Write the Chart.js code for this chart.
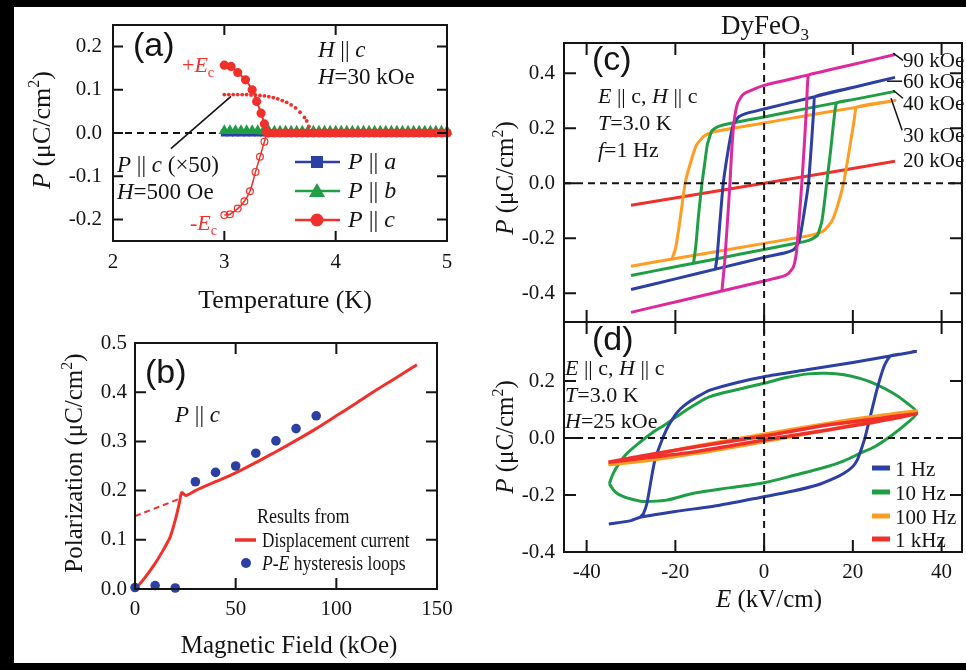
<!DOCTYPE html>
<html>
<head>
<meta charset="utf-8">
<script src="https://cdn.jsdelivr.net/npm/chart.js@4.4.1/dist/chart.umd.min.js"></script>
<style>
  body { margin: 0; background: #000; }
  #fig { position: relative; width: 966px; height: 670px; background: #000; overflow: hidden; }
  #paper { position: absolute; left: 14px; top: 7px; width: 952px; height: 656px; background: #fff; }
  canvas { position: absolute; left: 0; top: 0; }
</style>
</head>
<body>
<div id="fig">
  <div id="paper"></div>
  <canvas id="pa" width="966" height="670"></canvas>
  <canvas id="pb" width="966" height="670"></canvas>
  <canvas id="pc" width="966" height="670"></canvas>
  <canvas id="pd" width="966" height="670"></canvas>
</div>
<script>
// ---- (a) P vs temperature, H || c = 30 kOe
const tempGrid = [3.00, 3.05, 3.10, 3.15, 3.20, 3.25, 3.30, 3.35, 3.40, 3.45, 3.50, 3.55, 3.60, 3.65, 3.70,
  3.75, 3.80, 3.85, 3.90, 3.95, 4.00, 4.05, 4.10, 4.15, 4.20, 4.25, 4.30, 4.35, 4.40, 4.45, 4.50, 4.55,
  4.60, 4.65, 4.70, 4.75, 4.80, 4.85, 4.90, 4.95, 5.00]
const polA = [0, 0, 0, 0, 0, 0, 0, 0, 0, 0, 0, 0, 0, 0, 0, 0, 0, 0, 0, 0, 0,
  0, 0, 0, 0, 0, 0, 0, 0, 0, 0, 0, 0, 0, 0, 0, 0, 0, 0, 0, 0]
const polB = [0.005, 0.005, 0.005, 0.005, 0.005, 0.005, 0.005, 0.004, 0.004, 0.004, 0.004, 0.004, 0.004,
  0.004, 0.004, 0.004, 0.004, 0.004, 0.004, 0.004, 0.004, 0.004, 0.004, 0.004, 0.004, 0.004, 0.004,
  0.004, 0.004, 0.004, 0.004, 0.004, 0.004, 0.004, 0.004, 0.004, 0.004, 0.004, 0.004, 0.004, 0.004]
const tempUp = [3.00, 3.06, 3.12, 3.19, 3.25, 3.29, 3.33, 3.36, 3.38, 3.40, 3.45, 3.50, 3.55, 3.60, 3.65,
  3.70, 3.75, 3.80, 3.85, 3.90, 3.95, 4.00, 4.05, 4.10, 4.15, 4.20, 4.25, 4.30, 4.35, 4.40, 4.45, 4.50,
  4.55, 4.60, 4.65, 4.70, 4.75, 4.80, 4.85, 4.90, 4.95, 5.00]
const polUp = [0.157, 0.154, 0.140, 0.123, 0.100, 0.073, 0.046, 0.021, 0.003, 0, 0, 0, 0, 0, 0,
  0, 0, 0, 0, 0, 0, 0, 0, 0, 0, 0, 0, 0, 0, 0, 0, 0, 0, 0, 0, 0, 0, 0, 0, 0, 0, 0]
const tempDown = [3.00, 3.05, 3.12, 3.18, 3.23, 3.28, 3.32, 3.36, 3.38]
const polDown = [-0.190, -0.188, -0.175, -0.158, -0.135, -0.090, -0.055, -0.020, 0.000]
// P || c (x50) at H = 500 Oe
const tempWeak = [3.00, 3.04, 3.08, 3.12, 3.16, 3.20, 3.24, 3.28, 3.32, 3.36, 3.40, 3.44, 3.48, 3.52,
  3.56, 3.60, 3.64, 3.68, 3.72, 3.74, 3.76, 3.78]
const polWeak = [0.089, 0.089, 0.089, 0.089, 0.089, 0.089, 0.088, 0.088, 0.087, 0.086, 0.084, 0.082,
  0.079, 0.075, 0.071, 0.065, 0.058, 0.048, 0.036, 0.028, 0.015, 0.004]
const ticksTempX = [2, 3, 4, 5]
const ticksTempY = [-0.2, -0.1, 0, 0.1, 0.2]

// ---- (b) P vs magnetic field
const fieldCurve = [0, 4, 10, 14, 17.5, 20, 22, 23.2, 25.3, 30, 40, 50, 60, 70, 80, 90, 100, 110, 120, 130, 140]
const polCurve = [0, 0.018, 0.052, 0.079, 0.106, 0.140, 0.174, 0.196, 0.190, 0.200, 0.218, 0.236, 0.257,
  0.279, 0.302, 0.326, 0.352, 0.378, 0.405, 0.430, 0.456]
const fieldExtrap = [0, 22.5]
const polExtrap = [0.148, 0.184]
const fieldLoops = [0, 10, 20, 30, 40, 50, 60, 70, 80, 90]
const polLoops = [0.003, 0.007, 0.002, 0.218, 0.237, 0.250, 0.276, 0.301, 0.326, 0.352]
const ticksFieldX = [0, 50, 100, 150]
const ticksFieldY = [0, 0.1, 0.2, 0.3, 0.4, 0.5]

// ---- (c) P-E loops at 1 Hz for several fields
const e90 = [-30, -20, -10, 0, 4, 5.5, 6.6, 7.3, 7.9, 8.5, 9.1, 9.6, 10, 12, 20, 29.5,
  20, 10, 0, -4, -5, -6, -6.8, -7.3, -7.7, -8.3, -8.9, -9.5]
const p90 = [-0.470, -0.432, -0.394, -0.356, -0.340, -0.328, -0.305, -0.250, -0.130, 0, 0.150, 0.290, 0.393, 0.402, 0.432, 0.468,
  0.432, 0.394, 0.356, 0.330, 0.318, 0.290, 0.220, 0.120, 0, -0.150, -0.290, -0.390]
const e60 = [-30, -20, -10, 0, 5, 6.8, 7.9, 8.8, 10, 10.7, 11.2, 11.5, 20, 29.5,
  20, 10, 0, -4, -5.8, -7, -8, -9.2, -10, -10.6, -11]
const p60 = [-0.387, -0.348, -0.309, -0.270, -0.252, -0.240, -0.210, -0.130, 0, 0.150, 0.270, 0.315, 0.348, 0.385,
  0.348, 0.309, 0.270, 0.254, 0.240, 0.210, 0.130, 0, -0.150, -0.270, -0.313]
const e40 = [-30, -20, -10, 0, 8, 10.5, 12, 13, 13.6, 14.1, 15, 15.8, 16.4, 20, 29.5,
  20, 10, 0, -8, -10.5, -11.8, -12.8, -13.4, -14, -14.8, -15.4, -15.9]
const p40 = [-0.336, -0.304, -0.273, -0.241, -0.216, -0.205, -0.190, -0.140, -0.070, 0, 0.120, 0.240, 0.293, 0.304, 0.334,
  0.304, 0.273, 0.241, 0.216, 0.205, 0.190, 0.140, 0.070, 0, -0.120, -0.230, -0.291]
const e30 = [-30, -20, -10, 0, 8, 11, 13.5, 15.2, 16.4, 17.9, 19.2, 20.3, 20.9, 29.5,
  20, 10, 0, -8, -11, -13.5, -15.2, -16.3, -17.8, -19, -20, -20.8]
const p30 = [-0.302, -0.274, -0.247, -0.219, -0.197, -0.188, -0.172, -0.140, -0.090, 0, 0.120, 0.230, 0.277, 0.301,
  0.274, 0.247, 0.219, 0.197, 0.188, 0.172, 0.140, 0.090, 0, -0.140, -0.240, -0.277]
const e20 = [-30, -15, 0, 15, 29.5]
const p20 = [-0.080, -0.040, 0, 0.040, 0.080]
const fieldLabels = ['90 kOe', '60 kOe', '40 kOe', '30 kOe', '20 kOe']

// ---- (d) P-E loops at 25 kOe for several frequencies
const e1Hz = [-35, -30, -27.9, -20, -10, 0, 6, 12, 16, 18, 20, 21, 22, 22.8, 24, 25.4, 27, 28.4, 31, 34.4,
  31, 28.4, 20, 10, 0, -6, -12.2, -15, -17.4, -19, -20, -21.5, -22.7, -24.6, -25.5, -26.4, -27.2, -27.9]
const p1Hz = [-0.302, -0.290, -0.278, -0.258, -0.236, -0.206, -0.188, -0.165, -0.140, -0.124, -0.100, -0.077, -0.035, 0.005,
  0.080, 0.168, 0.250, 0.287, 0.295, 0.304,
  0.295, 0.288, 0.265, 0.240, 0.215, 0.195, 0.168, 0.145, 0.121, 0.100, 0.081, 0.045, 0.005, -0.077, -0.150, -0.229, -0.265, -0.278]
const e10Hz = [-34.9, -33.5, -31.7, -29, -27.2, -22, -15.9, -8, 0, 7, 14.1, 18, 21.6, 25, 28.4, 32.2, 34.4,
  32, 29.1, 25, 21.6, 18, 14.1, 10, 5, 0, -6, -12.2, -16, -19.7, -22.5, -24.9, -28, -30.9, -32.7, -34, -34.9]
const p10Hz = [-0.161, -0.190, -0.206, -0.218, -0.223, -0.218, -0.194, -0.175, -0.157, -0.130, -0.101, -0.080, -0.054, -0.030, 0.005, 0.052, 0.089,
  0.125, 0.157, 0.190, 0.209, 0.222, 0.227, 0.225, 0.212, 0.192, 0.170, 0.145, 0.113, 0.075, 0.045, 0.022, -0.015, -0.054, -0.090, -0.124, -0.161]
const e100Hz = [-35.1, -25, -15, 0, 15, 25, 34.4, 25, 15, 0, -15, -25, -35.1]
const p100Hz = [-0.095, -0.058, -0.027, 0.014, 0.054, 0.077, 0.095, 0.064, 0.030, -0.013, -0.054, -0.077, -0.095]
const e1kHz = [-35.1, -25, -15, 0, 15, 25, 34.4, 25, 15, 0, -15, -25, -35.1]
const p1kHz = [-0.085, -0.056, -0.030, 0.007, 0.047, 0.067, 0.084, 0.056, 0.030, -0.007, -0.047, -0.067, -0.085]
const freqLabels = ['1 Hz', '10 Hz', '100 Hz', '1 kHz']

const ticksEX = [-40, -20, 0, 20, 40]
const ticksPC = [-0.4, -0.2, 0, 0.2, 0.4]
const ticksPD = [-0.4, -0.2, 0, 0.2]

// ---- styling
const W = 966, H = 670
const INK = '#141414'
const SERIF = '"Liberation Serif", "Times New Roman", serif'
const SANS = '"Liberation Sans", Arial, sans-serif'
const BLUE = '#2c3fa3', GREEN = '#1f9e45', RED = '#f0302b', ORANGE = '#ff9c22', MAGENTA = '#dc2a9e'

const pts = (xs, ys) => xs.map((x, i) => ({ x, y: ys[i] }))

function line(xs, ys, color, width, extra) {
  return Object.assign({
    data: pts(xs, ys), showLine: true, borderColor: color, backgroundColor: color,
    borderWidth: width, pointRadius: 0, tension: 0, clip: false
  }, extra || {})
}

// mixed-style text: parts are [text, flags] with i = italic, b = subscript, p = superscript
function rich(ctx, x, y, parts, o) {
  o = o || {}
  const size = o.size || 22, fam = o.font || SERIF
  const font = st => (st.includes('i') ? 'italic ' : '') +
    ((st.includes('b') || st.includes('p')) ? Math.round(size * 0.62) : size) + 'px ' + fam
  let w = 0
  for (const [t, st = ''] of parts) { ctx.font = font(st); w += ctx.measureText(t).width }
  ctx.save()
  ctx.translate(x, y)
  if (o.rot) ctx.rotate(o.rot)
  if (o.sx) ctx.scale(o.sx, 1)
  ctx.fillStyle = o.color || INK
  ctx.textBaseline = 'alphabetic'
  let cx = o.align === 'center' ? -w / 2 : o.align === 'right' ? -w : 0
  for (const [t, st = ''] of parts) {
    ctx.font = font(st)
    const dy = st.includes('b') ? size * 0.22 : st.includes('p') ? -size * 0.42 : 0
    ctx.fillText(t, cx, dy)
    cx += ctx.measureText(t).width
  }
  ctx.restore()
}

// plot frame with inward tick marks
function frame(o) {
  return {
    id: 'frame',
    afterDatasetsDraw(chart) {
      const { ctx, chartArea: a, scales } = chart
      ctx.save()
      ctx.strokeStyle = INK
      ctx.lineWidth = 2
      ctx.strokeRect(a.left, a.top, a.right - a.left, a.bottom - a.top)
      ctx.beginPath()
      for (const v of o.x) {
        const p = scales.x.getPixelForValue(v)
        if (o.top) { ctx.moveTo(p, a.top); ctx.lineTo(p, a.top + o.len) }
        if (o.bottom) { ctx.moveTo(p, a.bottom); ctx.lineTo(p, a.bottom - o.len) }
      }
      for (const v of o.y) {
        const p = scales.y.getPixelForValue(v)
        ctx.moveTo(a.left, p); ctx.lineTo(a.left + o.len, p)
        ctx.moveTo(a.right, p); ctx.lineTo(a.right - o.len, p)
      }
      ctx.stroke()
      ctx.restore()
    }
  }
}

function overlay(draw) {
  return { id: 'overlay', afterDraw(chart) { const c = chart.ctx; c.save(); draw(c, chart); c.restore() } }
}

function axis(min, max, vals, o) {
  return {
    type: 'linear', min, max,
    afterBuildTicks: s => { s.ticks = vals.map(value => ({ value })) },
    afterFit: s => {
      if (o.w !== undefined) s.width = o.w
      if (o.h !== undefined) s.height = o.h
      s.paddingLeft = s.paddingRight = s.paddingTop = s.paddingBottom = 0
    },
    grid: { display: false, drawTicks: false },
    border: { display: false },
    ticks: {
      display: o.labels !== false, padding: o.pad, autoSkip: false, maxRotation: 0, minRotation: 0,
      color: INK, font: { family: SERIF, size: 21, lineHeight: 1.2 }, callback: o.fmt
    }
  }
}

const fmt1 = v => v.toFixed(1)
const fmt0 = v => String(v)

function makeChart(id, box, xs, ys, datasets, plugins) {
  return new Chart(document.getElementById(id), {
    type: 'scatter',
    data: { datasets },
    options: {
      responsive: false, animation: false, devicePixelRatio: 1, events: [],
      layout: { autoPadding: false, padding: { left: box.l - ys.w, right: W - box.r, top: box.t, bottom: H - box.b - xs.h } },
      scales: { x: axis(xs.min, xs.max, xs.ticks, xs), y: axis(ys.min, ys.max, ys.ticks, ys) },
      plugins: { legend: { display: false }, tooltip: { enabled: false } }
    },
    plugins
  })
}

const yTitle = [['P', 'i'], [' (μC/cm'], ['2', 'p'], [')']]

// ---- panel (a)
makeChart('pa', { l: 113, r: 447, t: 25, b: 241 },
  { min: 2, max: 5, ticks: ticksTempX, h: 40, pad: 9, fmt: fmt0 },
  { min: -0.25, max: 0.25, ticks: ticksTempY, w: 70, pad: 11, fmt: fmt1 },
  [
    line(tempUp, polUp, RED, 2, { pointRadius: 3.6, tension: 0.3 }),
    line(tempDown, polDown, RED, 1.5, { pointRadius: 3.4, pointStyle: 'circle', backgroundColor: 'rgba(255,255,255,0)', pointBorderWidth: 1.2, tension: 0.3 }),
    { data: pts(tempWeak, polWeak), showLine: false, pointRadius: 1.9, backgroundColor: RED, borderWidth: 0, clip: false },
    line(tempGrid, polB, GREEN, 2, { pointRadius: 4.5, pointStyle: 'triangle' }),
    line(tempGrid, polA, BLUE, 2, { pointRadius: 3.5, pointStyle: 'rect' }),
    line([2.52, 3.06], [-0.036, 0.085], INK, 1.6),
    line([2, 5], [0, 0], INK, 2, { borderDash: [7, 5] })
  ],
  [frame({ x: ticksTempX, y: ticksTempY, len: 10, top: true, bottom: true }), overlay(c => {
    rich(c, 133, 56, [['(a)']], { font: SANS, size: 34 })
    rich(c, 182, 72, [['+'], ['E', 'i'], ['c', 'b']], { size: 22, color: RED })
    rich(c, 190, 230, [['-'], ['E', 'i'], ['c', 'b']], { size: 22, color: RED })
    rich(c, 318, 57, [['H', 'i'], [' || '], ['c', 'i']], { size: 23 })
    rich(c, 318, 84, [['H', 'i'], ['=30 kOe']], { size: 23 })
    rich(c, 117, 172, [['P', 'i'], [' || '], ['c', 'i'], [' (×50)']], { size: 23 })
    rich(c, 117, 199, [['H', 'i'], ['=500 Oe']], { size: 23 })
    // legend keys
    const rows = [[162, BLUE, 'a'], [191, GREEN, 'b'], [220, RED, 'c']]
    for (const [y, col, ax] of rows) {
      c.strokeStyle = col; c.fillStyle = col; c.lineWidth = 2.5
      c.beginPath(); c.moveTo(295, y); c.lineTo(340, y); c.stroke()
      c.beginPath()
      if (ax === 'a') c.rect(311, y - 6, 12, 12)
      else if (ax === 'b') { c.moveTo(317, y - 8); c.lineTo(325, y + 6); c.lineTo(309, y + 6); c.closePath() }
      else c.arc(317, y, 6.5, 0, Math.PI * 2)
      c.fill()
      rich(c, 348, y + 7, [['P', 'i'], [' || '], [ax, 'i']], { size: 24 })
    }
    rich(c, 285, 308, [['Temperature (K)']], { size: 26, align: 'center' })
    rich(c, 50, 130, yTitle, { size: 26, align: 'center', rot: -Math.PI / 2 })
  })])

// ---- panel (b)
makeChart('pb', { l: 135, r: 437, t: 343, b: 589 },
  { min: 0, max: 150, ticks: ticksFieldX, h: 40, pad: 8, fmt: fmt0 },
  { min: 0, max: 0.5, ticks: ticksFieldY, w: 70, pad: 8, fmt: fmt1 },
  [
    { data: pts(fieldLoops, polLoops), showLine: false, pointRadius: 4.8, backgroundColor: BLUE, borderWidth: 0, clip: false },
    line(fieldCurve, polCurve, RED, 3, { tension: 0.25 }),
    line(fieldExtrap, polExtrap, RED, 2, { borderDash: [6, 4] })
  ],
  [frame({ x: ticksFieldX, y: ticksFieldY, len: 11, top: true, bottom: true }), overlay(c => {
    rich(c, 145, 383, [['(b)']], { font: SANS, size: 34 })
    rich(c, 175, 422, [['P', 'i'], [' || '], ['c', 'i']], { size: 23 })
    rich(c, 257, 523, [['Results from']], { size: 20, sx: 0.9 })
    c.strokeStyle = RED; c.lineWidth = 3.5
    c.beginPath(); c.moveTo(235, 540); c.lineTo(256, 540); c.stroke()
    rich(c, 262, 547, [['Displacement current']], { size: 20, sx: 0.86 })
    c.fillStyle = BLUE
    c.beginPath(); c.arc(246, 563, 5, 0, Math.PI * 2); c.fill()
    rich(c, 262, 570, [['P-E', 'i'], [' hysteresis loops']], { size: 20, sx: 0.88 })
    rich(c, 289, 653, [['Magnetic Field (kOe)']], { size: 25, align: 'center' })
    rich(c, 82, 463, [['Polarization (μC/cm'], ['2', 'p'], [')']], { size: 25, align: 'center', rot: -Math.PI / 2 })
  })])

// ---- panel (c)
const eMin = -45.1, eMax = 44.6
makeChart('pc', { l: 564, r: 962, t: 43, b: 322 },
  { min: eMin, max: eMax, ticks: ticksEX, h: 0, labels: false, pad: 0, fmt: fmt0 },
  { min: -0.505, max: 0.51, ticks: ticksPC, w: 70, pad: 9, fmt: fmt1 },
  [
    line([eMin, eMax], [0, 0], INK, 2, { borderDash: [7, 5] }),
    line([0, 0], [-0.505, 0.51], INK, 2, { borderDash: [7, 5] }),
    line([29.1, 31.3], [0.473, 0.447], INK, 1.5),
    line([27.7, 31.1], [0.371, 0.371], INK, 1.5),
    line([29.1, 31.3], [0.338, 0.309], INK, 1.5),
    line([28.6, 31.1], [0.309, 0.193], INK, 1.5),
    line(e90, p90, MAGENTA, 3, { tension: 0.15 }),
    line(e60, p60, BLUE, 3, { tension: 0.15 }),
    line(e40, p40, GREEN, 3, { tension: 0.15 }),
    line(e30, p30, ORANGE, 3, { tension: 0.15 }),
    line(e20, p20, RED, 3)
  ],
  [frame({ x: ticksEX, y: ticksPC, len: 12, top: true, bottom: true }), overlay(c => {
    rich(c, 765, 34, [['DyFeO'], ['3', 'b']], { size: 27, align: 'center' })
    rich(c, 592, 70, [['(c)']], { font: SANS, size: 34 })
    rich(c, 598, 103, [['E', 'i'], [' || c, '], ['H', 'i'], [' || c']], { size: 22 })
    rich(c, 598, 130, [['T', 'i'], ['=3.0 K']], { size: 22 })
    rich(c, 598, 157, [['f', 'i'], ['=1 Hz']], { size: 22 })
    const base = [67, 88, 110, 142, 167]
    fieldLabels.forEach((t, i) => rich(c, 903, base[i], [[t]], { size: 21 }))
    rich(c, 513, 178, yTitle, { size: 25, align: 'center', rot: -Math.PI / 2 })
  })])

// ---- panel (d)
makeChart('pd', { l: 564, r: 962, t: 322, b: 552 },
  { min: eMin, max: eMax, ticks: ticksEX, h: 40, pad: 8, fmt: fmt0 },
  { min: -0.4, max: 0.407, ticks: ticksPD, w: 70, pad: 9, fmt: fmt1 },
  [
    line([eMin, eMax], [0, 0], INK, 2, { borderDash: [7, 5] }),
    line([0, 0], [-0.4, 0.407], INK, 2, { borderDash: [7, 5] }),
    line(e1kHz, p1kHz, RED, 3.5, { tension: 0.3 }),
    line(e100Hz, p100Hz, ORANGE, 3, { tension: 0.3 }),
    line(e1Hz, p1Hz, BLUE, 3, { tension: 0.2 }),
    line(e10Hz, p10Hz, GREEN, 3, { tension: 0.3 })
  ],
  [frame({ x: ticksEX, y: ticksPD, len: 12, top: true, bottom: true }), overlay(c => {
    rich(c, 592, 350, [['(d)']], { font: SANS, size: 34 })
    rich(c, 565, 375, [['E', 'i'], [' || c, '], ['H', 'i'], [' || c']], { size: 22 })
    rich(c, 565, 402, [['T', 'i'], ['=3.0 K']], { size: 22 })
    rich(c, 565, 428, [['H', 'i'], ['=25 kOe']], { size: 22 })
    const cols = [BLUE, GREEN, ORANGE, RED]
    const ys = [468, 492, 516, 539]
    freqLabels.forEach((t, i) => {
      c.strokeStyle = cols[i]; c.lineWidth = 5
      c.beginPath(); c.moveTo(872, ys[i]); c.lineTo(890, ys[i]); c.stroke()
      rich(c, 895, ys[i] + 8, [[t]], { size: 21 })
    })
    rich(c, 769, 607, [['E', 'i'], [' (kV/cm)']], { size: 25, align: 'center' })
    rich(c, 513, 437, yTitle, { size: 25, align: 'center', rot: -Math.PI / 2 })
  })])
</script>
</body>
</html>
